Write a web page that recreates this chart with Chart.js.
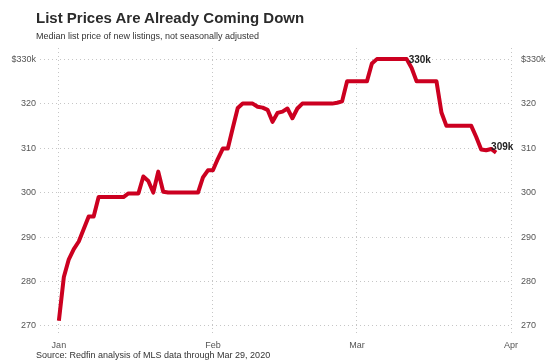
<!DOCTYPE html>
<html>
<head>
<meta charset="utf-8">
<script src="https://cdn.jsdelivr.net/npm/chart.js@4"></script>
<style>
  body { margin: 0; background: #fff; font-family: "Liberation Sans", Arial, sans-serif; }
  #wrap { position: relative; width: 550px; height: 363px; }
  #wrap canvas { position: absolute; left: 0; top: 0; }
  .txt { position: absolute; left: 36px; white-space: nowrap; color: #333; }
  #title { top: 10px; font-size: 15px; font-weight: bold; line-height: 16px; color: #2b2b2b; }
  #subtitle { top: 31px; font-size: 9px; line-height: 10px; }
  #source { top: 350px; font-size: 9px; line-height: 10px; }
</style>
</head>
<body>
<div id="wrap">
  <canvas id="myChart" width="550" height="363"></canvas>
  <div class="txt" id="title">List Prices Are Already Coming Down</div>
  <div class="txt" id="subtitle">Median list price of new listings, not seasonally adjusted</div>
  <div class="txt" id="source">Source: Redfin analysis of MLS data through Mar 29, 2020</div>
</div>
<script>
// daily median list price ($k), Jan 1 2020 -> Mar 29 2020 (day 0 = Jan 1)
const priceK = [
  271.2, 281, 285, 287.3, 289, 291.8, 294.6, 294.6, 299, 299,
  299, 299, 299, 299, 299.8, 299.8, 299.8, 303.6, 302.6, 300,
  304.7, 300.2, 300, 300, 300, 300, 300, 300, 300, 303.4,
  305, 305, 307.6, 309.9, 309.9, 314.5, 319, 320, 320, 320,
  319.3, 319.1, 318.6, 315.9, 317.9, 318.2, 318.9, 316.7, 318.9, 320,
  320, 320, 320, 320, 320, 320, 320.2, 320.5, 325, 325,
  325, 325, 325, 329, 330, 330, 330, 330, 330, 330,
  330, 328, 325, 325, 325, 325, 325, 318, 315, 315,
  315, 315, 315, 315, 312.5, 309.7, 309.5, 309.8, 309
];

const monthTicks = [0, 31, 60, 91];
const monthLabels = ['Jan', 'Feb', 'Mar', 'Apr'];

const yTicks = [270, 280, 290, 300, 310, 320, 330];
const yTickLabels = ['270', '280', '290', '300', '310', '320', '$330k'];

const pointLabels = {
    max: '330k',
    last: '309k'
}

const red = '#cc0020';
const gridColor = '#c6c6c6';
const tickFont = { family: 'Liberation Sans', size: 9 };

const labelPlugin = {
    id: 'endLabels',
    afterDatasetsDraw(chart) {
        const pts = chart.getDatasetMeta(0).data;
        const c = chart.ctx;
        let maxIdx = 0;
        for (let i = 0; i < priceK.length; i++) {
            if (priceK[i] >= priceK[maxIdx]) maxIdx = i;
        }
        const lastIdx = priceK.length - 1;
        c.save();
        c.font = 'bold 10px "Liberation Sans", Arial';
        c.fillStyle = '#222';
        c.textAlign = 'left';
        c.textBaseline = 'middle';
        c.fillText(pointLabels.max, pts[maxIdx].x + 2, pts[maxIdx].y + 1);
        c.fillText(pointLabels.last, pts[lastIdx].x - 5, pts[lastIdx].y - 5);
        c.restore();
    }
}

const yTickCallback = (value) => {
    const i = yTicks.indexOf(value);
    return i >= 0 ? yTickLabels[i] : '';
}

const ctx = document.getElementById('myChart');

new Chart(ctx, {
    type: 'line',
    data: {
        datasets: [{
            data: priceK.map((v, i) => ({ x: i, y: v })),
            borderColor: red,
            borderWidth: 4,
            borderJoinStyle: 'round',
            borderCapStyle: 'butt',
            pointRadius: 0,
            tension: 0,
            fill: false
        }]
    },
    options: {
        responsive: false,
        animation: false,
        layout: { padding: { top: 48, left: 0, right: 0, bottom: 0 } },
        plugins: {
            legend: { display: false },
            tooltip: { enabled: false }
        },
        scales: {
            x: {
                type: 'linear',
                min: -3.8,
                max: 91.2,
                afterBuildTicks: (scale) => {
                    scale.ticks = monthTicks.map(v => ({ value: v }));
                },
                afterFit: (scale) => { scale.height = 27; },
                ticks: {
                    callback: (value) => monthLabels[monthTicks.indexOf(value)],
                    color: '#555',
                    font: tickFont,
                    padding: 4,
                    maxRotation: 0,
                    autoSkip: false
                },
                grid: { color: gridColor, lineWidth: 1, drawTicks: false },
                border: { display: false, dash: [1, 3] }
            },
            y: {
                position: 'left',
                min: 267.75,
                max: 332.5,
                afterBuildTicks: (scale) => {
                    scale.ticks = yTicks.map(v => ({ value: v }));
                },
                afterFit: (scale) => { scale.width = 40; },
                ticks: {
                    callback: yTickCallback,
                    color: '#555',
                    font: tickFont,
                    padding: 4
                },
                grid: { color: gridColor, lineWidth: 1, drawTicks: false },
                border: { display: false, dash: [1, 3] }
            },
            y2: {
                position: 'right',
                min: 267.75,
                max: 332.5,
                afterBuildTicks: (scale) => {
                    scale.ticks = yTicks.map(v => ({ value: v }));
                },
                afterFit: (scale) => { scale.width = 38; },
                ticks: {
                    callback: yTickCallback,
                    color: '#555',
                    font: tickFont,
                    padding: 9
                },
                grid: { display: false, drawTicks: false },
                border: { display: false }
            }
        }
    },
    plugins: [labelPlugin]
});
</script>
</body>
</html>
